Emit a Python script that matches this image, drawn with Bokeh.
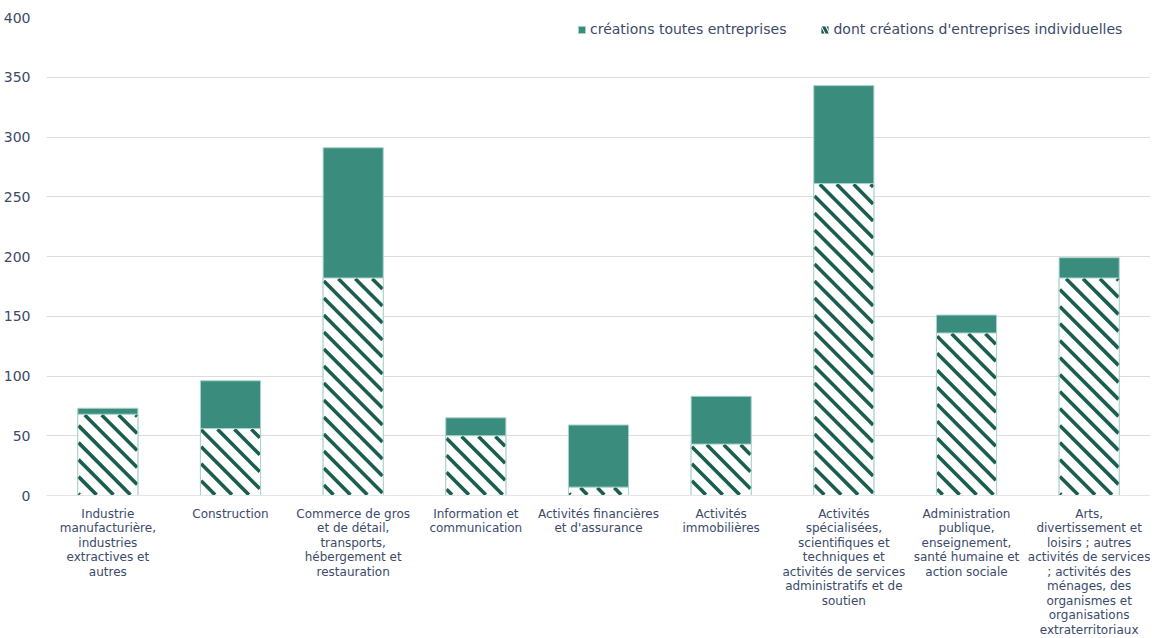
from bokeh.plotting import figure
from bokeh.models import ColumnDataSource, FixedTicker, Legend, LegendItem, Range1d
from bokeh.embed import file_html
from bokeh.resources import INLINE

categories = [
    "Industrie\nmanufacturière,\nindustries\nextractives et\nautres",
    "Construction",
    "Commerce de gros\net de détail,\ntransports,\nhébergement et\nrestauration",
    "Information et\ncommunication",
    "Activités financières\net d'assurance",
    "Activités\nimmobilières",
    "Activités\nspécialisées,\nscientifiques et\ntechniques et\nactivités de services\nadministratifs et de\nsoutien",
    "Administration\npublique,\nenseignement,\nsanté humaine et\naction sociale",
    "Arts,\ndivertissement et\nloisirs ; autres\nactivités de services\n; activités des\nménages, des\norganismes et\norganisations\nextraterritoriaux",
]
total = [73, 96, 291, 65, 59, 83, 343, 151, 199]
individuelles = [68, 56, 182, 50, 7, 43, 261, 136, 182]

TEXT = "#3b4a6b"
FONT = "DejaVu Sans"
HATCH = "#1b5e4f"
OUTLINE = "#a9d3ca"

WIDTH, HEIGHT, LEFT, TOP, FRAME_H = 1150, 622, 41, 17, 478
BAR_W = 0.49
YMAX = 400
n = len(categories)

x = list(range(n))
src = ColumnDataSource(dict(x=x, total=total, ind=individuelles))

# 45-degree stripes for the "individuelles" part, computed from the bar geometry
kx = (WIDTH - LEFT) / n          # px per x unit
ky = FRAME_H / YMAX              # px per y unit
PERIOD = 17.0                    # horizontal stripe period in px
INSET = 0.7                      # px
xs, ys = [], []
for i, v in enumerate(individuelles):
    ul = (i - BAR_W / 2 + 0.5) * kx + INSET
    ur = (i + BAR_W / 2 + 0.5) * kx - INSET
    vb = INSET
    vt = v * ky - INSET
    if vt <= vb:
        continue
    j0 = int((ul + vb) // PERIOD)
    j1 = int((ur + vt) // PERIOD) + 1
    for j in range(j0, j1 + 1):
        c = j * PERIOD
        u0 = max(ul, c - vt)
        u1 = min(ur, c - vb)
        if u1 - u0 > 0.3:
            xs.append([u0 / kx - 0.5, u1 / kx - 0.5])
            ys.append([(c - u0) / ky, (c - u1) / ky])

p = figure(width=WIDTH, height=HEIGHT, frame_height=FRAME_H, output_backend="svg", toolbar_location=None,
           x_range=Range1d(-0.5, n - 0.5), y_range=Range1d(0, YMAX),
           min_border_left=LEFT, min_border_top=TOP, min_border_right=0, min_border_bottom=0)
p.outline_line_color = None
p.background_fill_color = "white"

r1 = p.vbar(x="x", top="total", width=BAR_W, source=src, fill_color="#3a8d7d",
            line_color=OUTLINE, line_width=1)
p.vbar(x="x", top="ind", width=BAR_W, source=src, fill_color="white", line_color=None)
p.multi_line(xs=xs, ys=ys, line_color=HATCH, line_width=3.6, line_cap="butt")
p.vbar(x="x", top="ind", width=BAR_W, source=src, fill_color=None,
       line_color=OUTLINE, line_width=1)

# legend-only proxy glyph (zero height, invisible in the plot) with a hatch swatch
r_leg = p.vbar(x=[0], top=[0], bottom=[0], width=BAR_W, fill_color="white", line_color=None,
               hatch_pattern="\\", hatch_color=HATCH, hatch_scale=9, hatch_weight=3)

p.xgrid.grid_line_color = None
p.ygrid.grid_line_color = "#dcdcdc"
p.ygrid.grid_line_width = 1

p.yaxis.ticker = FixedTicker(ticks=list(range(0, YMAX + 1, 50)))
p.yaxis.axis_line_color = None
p.yaxis.major_tick_line_color = None
p.yaxis.minor_tick_line_color = None
p.yaxis.major_label_text_font = FONT
p.yaxis.major_label_text_font_size = "14px"
p.yaxis.major_label_text_color = TEXT
p.yaxis.major_label_standoff = 10

p.xaxis.ticker = FixedTicker(ticks=x)
p.xaxis.major_label_overrides = {i: c for i, c in enumerate(categories)}
p.xaxis.axis_line_color = "#e3e3ea"
p.xaxis.major_tick_line_color = None
p.xaxis.minor_tick_line_color = None
p.xaxis.major_label_text_font = FONT
p.xaxis.major_label_text_font_size = "12px"
p.xaxis.major_label_text_color = TEXT
p.xaxis.major_label_text_line_height = 1.04
p.xaxis.major_label_standoff = 5

legend = Legend(items=[LegendItem(label="créations toutes entreprises", renderers=[r1]),
                       LegendItem(label="dont créations d'entreprises individuelles", renderers=[r_leg])],
                location=(531, 458), orientation="horizontal",
                border_line_color=None, background_fill_alpha=0,
                label_text_font=FONT, label_text_font_size="14px", label_text_color=TEXT,
                glyph_width=9, glyph_height=9, spacing=34, margin=0, padding=0,
                label_standoff=4)
p.add_layout(legend)

open("out.html", "w").write(file_html(p, INLINE))
